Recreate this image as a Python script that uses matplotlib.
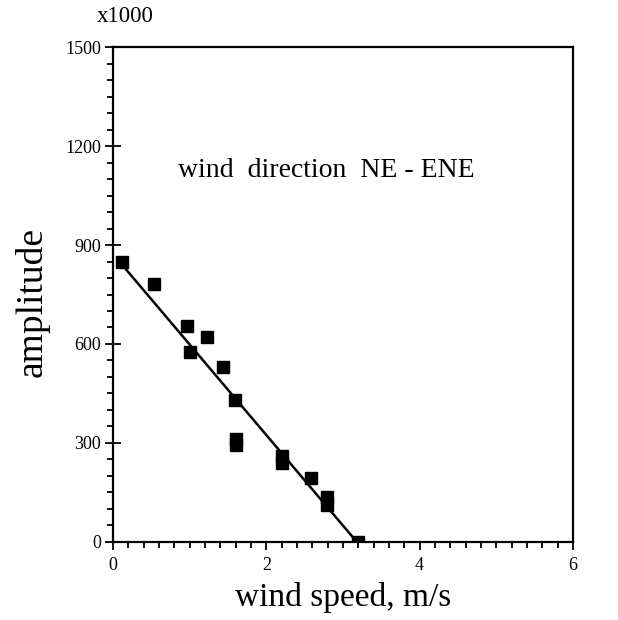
import matplotlib
matplotlib.use("Agg")
import matplotlib.pyplot as plt
from matplotlib.ticker import MultipleLocator

# Data (amplitude in units of x1000)
wind_speed = [0.11, 0.54, 0.97, 1.01, 1.22, 1.44, 1.59, 1.61, 1.61, 2.20, 2.20, 2.58, 2.79, 2.79, 3.20]
amplitude = [848, 782, 654, 575, 621, 529, 429, 313, 295, 261, 240, 195, 135, 112, 0]

fit_x = [0.10, 3.18]
fit_y = [845, 0]

x_ticks = [0, 2, 4, 6]
y_ticks = [0, 300, 600, 900, 1200, 1500]

plt.rcParams['font.family'] = ['Liberation Serif', 'DejaVu Serif']

fig = plt.figure(figsize=(6.18, 6.20), dpi=100)
ax = fig.add_axes([0.183, 0.126, 0.744, 0.798])

ax.plot(fit_x, fit_y, color='black', lw=1.8, zorder=2)
ax.plot(wind_speed, amplitude, linestyle='none', marker='s', markersize=8.5,
        color='black', zorder=3)

ax.set_xlim(0, 6)
ax.set_ylim(0, 1500)
ax.set_xticks(x_ticks)
ax.set_yticks(y_ticks)
ax.xaxis.set_minor_locator(MultipleLocator(0.2))
ax.yaxis.set_minor_locator(MultipleLocator(50))
ax.tick_params(which='both', direction='out', width=1.3, labelsize=13,
               top=False, right=False)
ax.tick_params(which='major', length=6)
ax.tick_params(which='minor', length=4)
ax.tick_params(axis='y', which='major', direction='inout', length=11)
ax.tick_params(axis='x', pad=5)
ax.tick_params(axis='y', pad=3)
for s in ax.spines.values():
    s.set_linewidth(1.6)

ax.set_xlabel('wind speed, m/s', fontsize=24, labelpad=6)
ax.set_ylabel('amplitude', fontsize=27)
ax.yaxis.set_label_coords(-0.138, 0.485)

ax.text(0.85, 1127, 'wind  direction  NE - ENE', fontsize=20, va='center', ha='left')
fig.text(97 / 618, 1 - 17 / 620, 'x1000', fontsize=16.5, va='center', ha='left')

fig.savefig('out.png', dpi=100, facecolor='white')
